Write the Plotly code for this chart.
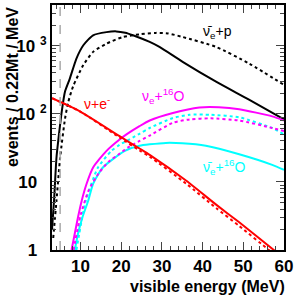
import plotly.graph_objects as go

# ---------------- data ----------------
# anti-nu_e + p, solid
ibd_solid_E = [3.0, 3.5, 4.1, 5.0, 5.4, 6.2, 7.4, 9.0, 10.7, 13.1, 16.4, 18.8, 21.0, 22.9, 27.0, 29.4, 35.1, 43.3, 51.4, 60.0]
ibd_solid_V = [2.0, 5.3, 22.8, 70, 109, 213, 333, 651, 1020, 1430, 1590, 1630, 1560, 1430, 1140, 964, 583, 298, 162, 83]
# anti-nu_e + p, dotted
ibd_dot_E = [3.3, 4.1, 5.0, 6.2, 7.0, 8.2, 10.7, 13.1, 16.4, 20.4, 24.5, 28.5, 31.5, 35.1, 43.3, 51.4, 60.0]
ibd_dot_V = [1.5, 5.3, 22.8, 85, 150, 255, 522, 815, 1077, 1349, 1475, 1550, 1520, 1349, 964, 551, 267]
# nu + e-, solid / dotted
es_solid_E = [3.0, 9.85, 19.6, 24.5, 27.0, 36.0, 43.4, 49.0, 57.5, 58.5]
es_solid_V = [170, 109, 47, 31, 25, 10.4, 4.6, 2.55, 1.0, 0.9]
es_dot_E = [3.0, 9.85, 19.6, 24.5, 27.0, 36.0, 43.4, 49.0, 56.3, 57.5]
es_dot_V = [170, 109, 45, 29, 23.5, 9.4, 4.1, 2.25, 1.0, 0.88]
# nu_e + 16O, solid / dotted
nueO_solid_E = [7.8, 8.6, 9.4, 10.3, 11.5, 13.1, 16.4, 19.6, 21.3, 24.5, 27.0, 32.7, 39.2, 44.0, 49.0, 57.1, 60.0]
nueO_solid_V = [1.0, 1.75, 3.05, 5.3, 9.4, 16.3, 28.6, 42, 50, 66, 80, 103, 124, 125, 117, 92, 80]
nueO_dot_E = [8.3, 10.0, 12.0, 14.5, 17.0, 19.6, 22.0, 24.5, 27.0, 32.7, 36.8, 42.0, 49.0, 57.1, 60.0]
nueO_dot_V = [1.0, 3.2, 7.5, 13.5, 20, 26, 33, 40, 48, 74, 83, 86, 80, 62, 56]
# anti-nu_e + 16O, solid / dotted
nubO_solid_E = [8.6, 9.4, 10.5, 11.9, 13.1, 15.5, 20.9, 24.5, 27.0, 31.0, 35.0, 40.8, 49.0, 57.1, 60.0]
nubO_solid_V = [1.0, 1.75, 3.05, 5.3, 9.4, 16.3, 28.6, 34, 35.7, 37.5, 37, 34, 25.5, 17.8, 15]
nubO_dot_E = [9.0, 11.3, 14.3, 17.6, 19.6, 24.5, 27.0, 32.7, 36.8, 42.0, 49.0, 57.1, 60.0]
nubO_dot_V = [1.0, 5.3, 16.3, 28.6, 35, 51, 62, 87, 97, 97, 89, 62, 50]

threshold_energy = 5.0
x_ticks = [10, 20, 30, 40, 50, 60]
y_ticks = [1, 10, 100, 1000]
y_ticktext = ["1\u00a0\u00a0", "10\u00a0\u00a0", "10\u00a0<sup>2</sup>", "10\u00a0<sup>3</sup>"]

BLACK, RED, MAG, CYAN = "#000000", "#ff0000", "#ff00ff", "#00ffff"

fig = go.Figure()

def add(x, y, color, dash):
    fig.add_trace(go.Scatter(x=x, y=y, mode="lines",
                             line=dict(color=color, width=2, dash=dash, shape="spline", smoothing=0.6),
                             showlegend=False, hoverinfo="skip"))

add(ibd_solid_E, ibd_solid_V, BLACK, "solid")
add(ibd_dot_E, ibd_dot_V, BLACK, "dot")
add(nubO_dot_E, nubO_dot_V, CYAN, "dot")
add(nubO_solid_E, nubO_solid_V, CYAN, "solid")
add(nueO_dot_E, nueO_dot_V, MAG, "dot")
add(nueO_solid_E, nueO_solid_V, MAG, "solid")
add(es_dot_E, es_dot_V, RED, "dot")
add(es_solid_E, es_solid_V, RED, "solid")

fig.add_shape(type="line", x0=threshold_energy, x1=threshold_energy, y0=0, y1=1,
              xref="x", yref="paper", line=dict(color="#aaaaaa", width=1.5, dash="dash"))

FONT = "Liberation Sans, Arial, Helvetica, sans-serif"
tickfont = dict(family=FONT, size=17, color="black", weight="bold")

fig.update_xaxes(range=[3, 60], tickvals=x_ticks, ticks="inside", ticklen=8, tickwidth=1,
                 showline=True, linecolor="black", linewidth=2, mirror="ticks",
                 showgrid=False, zeroline=False, tickfont=tickfont,
                 minor=dict(ticks="inside", dtick=2, ticklen=4, tickwidth=1, showgrid=False))
fig.update_yaxes(type="log", range=[0, 3.6], tickvals=y_ticks, ticktext=y_ticktext,
                 ticks="inside", ticklen=8, tickwidth=1,
                 showline=True, linecolor="black", linewidth=2, mirror="ticks",
                 showgrid=False, zeroline=False, tickfont=tickfont,
                 minor=dict(ticks="inside", ticklen=4, tickwidth=1, dtick="D1", showgrid=False))

labfont = dict(family=FONT, size=14)
annots = [
    dict(x=43.6, y=3.21, text="\u03bd\u0304<sub>e</sub>+p", font=dict(labfont, color=BLACK)),
    dict(x=14.0, y=2.16, text="\u03bd+e<sup>-</sup>", font=dict(labfont, color=RED)),
    dict(x=30.4, y=2.26, text="\u03bd<sub>e</sub>+<sup>16</sup>O", font=dict(labfont, color=MAG)),
    dict(x=45.3, y=1.22, text="\u03bd\u0304<sub>e</sub>+<sup>16</sup>O", font=dict(labfont, color=CYAN)),
]
for a in annots:
    fig.add_annotation(xref="x", yref="y", showarrow=False, **a)

fig.add_annotation(xref="paper", yref="paper", x=1, y=-0.15, xanchor="right", yanchor="middle",
                   xshift=3, showarrow=False, text="visible energy (MeV)",
                   font=dict(family=FONT, size=16, color="black", weight="bold"))
fig.add_annotation(xref="paper", yref="paper", x=-0.172, y=1, xanchor="center", yanchor="top",
                   showarrow=False, textangle=-90, text="events / 0.22Mt / MeV",
                   font=dict(family=FONT, size=16, color="black", weight="bold"))

fig.update_layout(width=296, height=297, margin=dict(l=52, r=11, t=3, b=47),
                  plot_bgcolor="white", paper_bgcolor="white")

fig.write_html("out.html", config={"displayModeBar": False},
               post_script="document.body.style.margin='0';document.body.style.overflow='hidden';")
